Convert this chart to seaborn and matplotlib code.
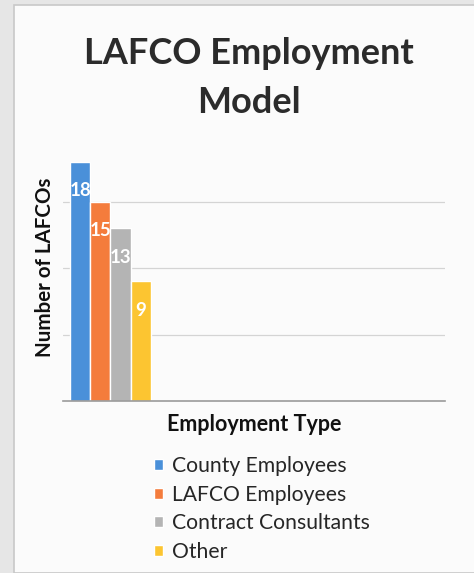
import pandas as pd
import matplotlib.pyplot as plt
import seaborn as sns
from matplotlib.patches import Rectangle

# Chart data
employment_types = ['County Employees', 'LAFCO Employees', 'Contract Consultants', 'Other']
lafco_counts = [18, 15, 13, 9]
bar_colors = ['#4A90D9', '#F47C3C', '#B4B4B4', '#FCC531']

df = pd.DataFrame({'Group': [''] * len(employment_types),
                   'Employment Type': employment_types,
                   'Number of LAFCOs': lafco_counts})

sns.set_style('white')
plt.rcParams['font.family'] = ['Lato', 'DejaVu Sans']

fig = plt.figure(figsize=(4.74, 5.73), dpi=100, facecolor='#e6e6e6')
# scanned page look: light panel with a grey border on the left/top
fig.patches.append(Rectangle((14 / 474, 0), 1, 1 - 5 / 573, transform=fig.transFigure,
                             facecolor='#fbfbfb', edgecolor='#c8c8c8', lw=1.2, zorder=-5))

ax = fig.add_axes([63 / 474, 1 - 401 / 573, (445 - 63) / 474, (401 - 150) / 573])
ax.set_facecolor('none')
ax.set_zorder(2)

sns.barplot(x='Group', y='Number of LAFCOs', hue='Employment Type', data=df,
            palette=bar_colors, hue_order=employment_types, width=0.8, gap=0,
            saturation=1, ax=ax)

ax.set_xlim(-0.47, 3.31)
ax.set_ylim(0, 18.9)
ax.set_yticks([5, 10, 15])
ax.yaxis.grid(True, color='#d4d4d4', lw=0.9)
ax.set_axisbelow(True)
ax.tick_params(left=False, bottom=False, labelleft=False, labelbottom=False)
for side in ['top', 'right', 'left']:
    ax.spines[side].set_visible(False)
ax.spines['bottom'].set_color('#9a9a9a')
ax.spines['bottom'].set_linewidth(1.2)

# value labels inside the top of each bar
for container in ax.containers:
    ax.bar_label(container, label_type='edge', padding=-27, color='white',
                 fontsize=13.5, fontweight='bold')

ax.set_ylabel('Number of LAFCOs', fontsize=14.8, fontweight='bold', color='#111111')
ax.yaxis.set_label_coords(-0.021, 0.534)
ax.set_xlabel('Employment Type', fontsize=15.5, fontweight='bold', color='#111111')
ax.xaxis.set_label_coords(0.5, -0.05)
ax.xaxis.label.set_verticalalignment('top')

fig.text(249 / 474, 1 - 78 / 573, 'LAFCO Employment\nModel', ha='center', va='center',
         fontsize=26, fontweight='bold', color='#2b2b2b', linespacing=1.6)

ax.legend(loc='upper left', bbox_to_anchor=(154 / 474, 1 - 456 / 573),
          bbox_transform=fig.transFigure, frameon=False, fontsize=15.2,
          handlelength=0.42, handleheight=0.42, handletextpad=0.45,
          labelspacing=0.41, borderaxespad=0, borderpad=0)

fig.savefig('out.png', dpi=100, facecolor=fig.get_facecolor())
